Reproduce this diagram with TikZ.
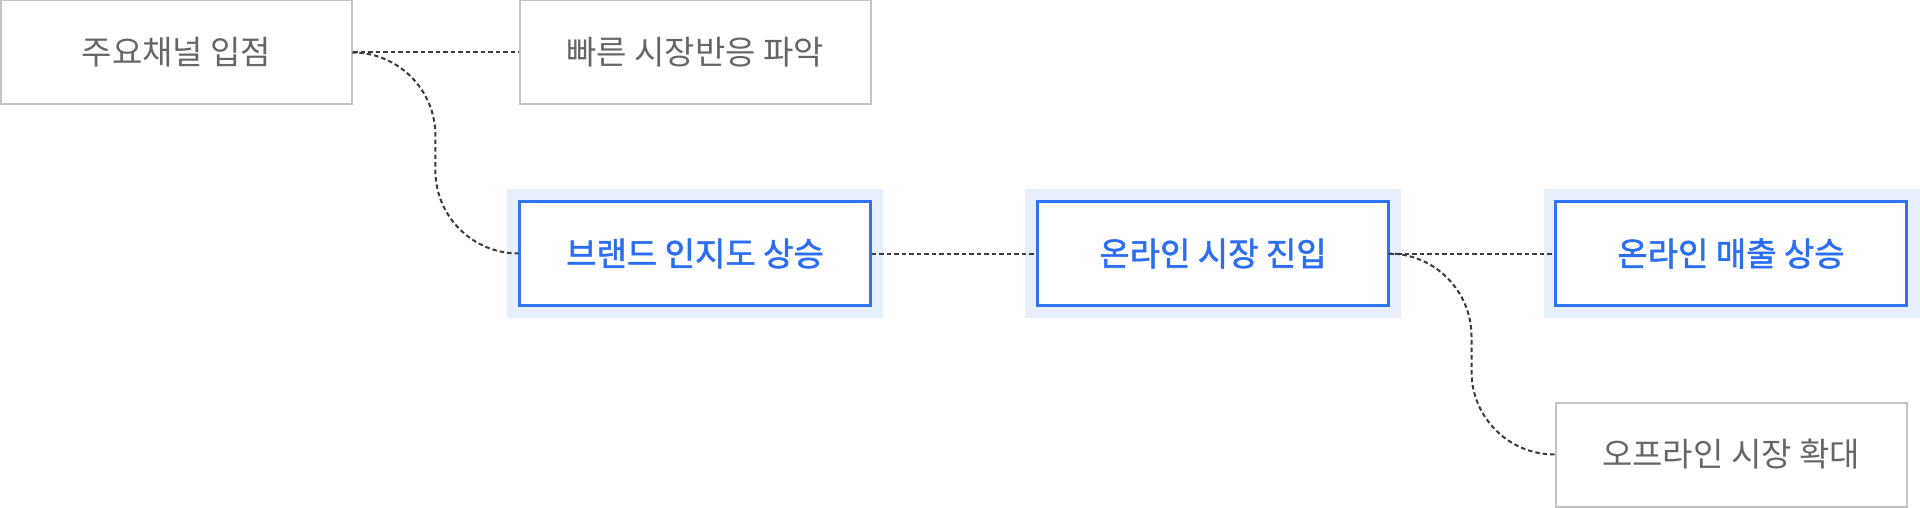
\documentclass[tikz,border=0pt]{standalone}
\usepackage{fontspec}
\setmainfont{Noto Sans CJK KR}
\newfontfamily\krmed{Noto Sans CJK KR}[FakeBold=1.6]
\definecolor{gtext}{HTML}{666666}
\definecolor{gline}{HTML}{C4C4C4}
\definecolor{bline}{HTML}{2F74F5}
\definecolor{btext}{HTML}{2C6EF2}
\definecolor{bfill}{HTML}{E7EFFC}
\definecolor{conn}{HTML}{3A3A3A}
\tikzset{
  graybox/.style={draw=gline, line width=2pt, fill=white, minimum width=351, minimum height=104, inner sep=0pt, text=gtext, font=\fontsize{33}{38}\selectfont},
  bluebox/.style={draw=bline, line width=2.2pt, fill=white, minimum width=351, minimum height=104, inner sep=0pt, text=btext, font=\fontsize{33}{38}\selectfont\krmed},
  halo/.style={fill=bfill, draw=none, minimum width=376, minimum height=129, inner sep=0pt},
  connector/.style={draw=conn, line width=2pt, dash pattern=on 4.5pt off 3pt},
}
\begin{document}
\begin{tikzpicture}[x=1pt,y=-1pt]
\useasboundingbox (0,0) rectangle (1920,508);
\node[graybox] (A) at (176.5,52.5) {주요채널 입점};
\node[graybox] (B) at (695,52.5) {빠른 시장반응 파악};
\node[halo] (Ch) at (695,253.5) {};
\node[halo] (Dh) at (1213,253.5) {};
\node[halo] (Eh) at (1731.5,253.5) {};
\node[bluebox] (C) at (695,253.5) {브랜드 인지도 상승};
\node[bluebox] (D) at (1213,253.5) {온라인 시장 진입};
\node[bluebox] (E) at (1731,253.5) {온라인 매출 상승};
\node[graybox] (F) at (1731,454.5) {오프라인 시장 확대};
\draw[connector] (A.east) -- (B.west);
\draw[connector, rounded corners=83pt] (A.east) -| ([xshift=-83pt]C.west) -- (C.west);
\draw[connector] (C.east) -- (D.west);
\draw[connector] (D.east) -- (E.west);
\draw[connector, rounded corners=83pt] (D.east) -| ([xshift=-83pt]F.west) -- (F.west);
\end{tikzpicture}
\end{document}
